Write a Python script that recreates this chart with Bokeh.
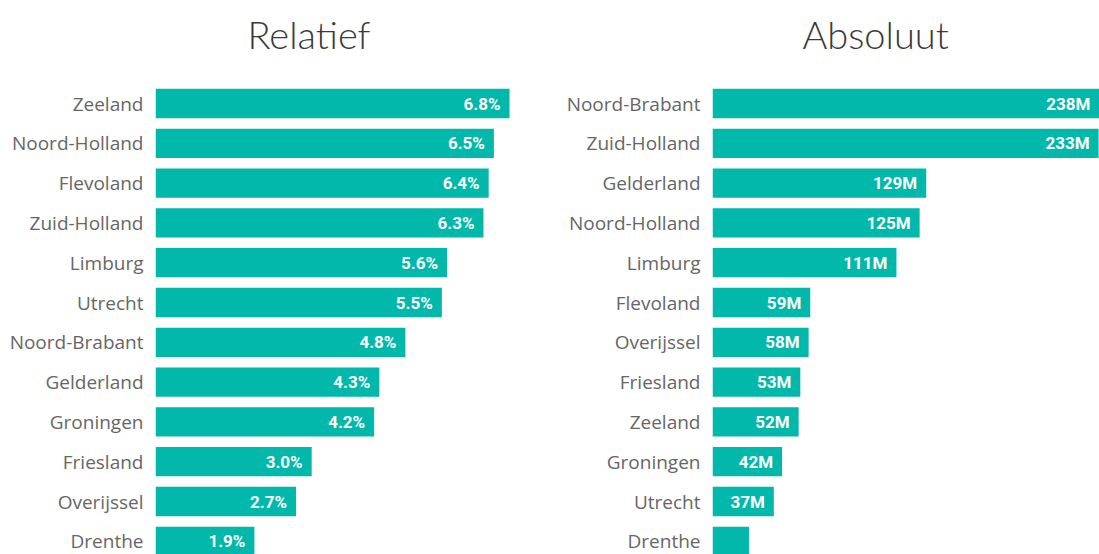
from bokeh.plotting import figure
from bokeh.models import Range1d, FixedTicker
from bokeh.layouts import row
from bokeh.embed import file_html
from bokeh.resources import INLINE
from bokeh.core.properties import value

# ---- data ----
rel_regions = ["Zeeland", "Noord-Holland", "Flevoland", "Zuid-Holland", "Limburg", "Utrecht",
               "Noord-Brabant", "Gelderland", "Groningen", "Friesland", "Overijssel", "Drenthe"]
rel_values = [6.8, 6.5, 6.4, 6.3, 5.6, 5.5, 4.8, 4.3, 4.2, 3.0, 2.7, 1.9]

abs_regions = ["Noord-Brabant", "Zuid-Holland", "Gelderland", "Noord-Holland", "Limburg", "Flevoland",
               "Overijssel", "Friesland", "Zeeland", "Groningen", "Utrecht", "Drenthe"]
abs_values = [238, 233, 129, 125, 111, 59, 58, 53, 52, 42, 37, 22]

rel_labels = [f"{v:.1f}%" for v in rel_values]
abs_labels = [f"{v}M" if v >= 30 else "" for v in abs_values]

# ---- layout constants ----
H = 554
FRAME_TOP = 66
ROW_PX = 39.8
Y_TOP = -(103 - FRAME_TOP) / ROW_PX
Y_BOTTOM = Y_TOP + (H - FRAME_TOP) / ROW_PX

BAR_COLOR = "#01B8AA"
TITLE_FONT = "'Lato Light', 'Open Sans Light', 'Open Sans', sans-serif"


def make(title, regions, values, labels, width, border_left, x_end, title_offset):
    p = figure(width=width, height=H, output_backend="svg", toolbar_location=None,
               x_range=Range1d(0, x_end), y_range=Range1d(Y_BOTTOM, Y_TOP),
               min_border_left=border_left, min_border_right=0,
               min_border_top=FRAME_TOP, min_border_bottom=0, title=title)
    p.title.text_font = TITLE_FONT
    p.title.text_font_size = "38px"
    p.title.text_font_style = "normal"
    p.title.text_color = "#3a3a3a"
    p.title.align = "left"
    p.title.vertical_align = "top"
    p.title.offset = title_offset
    p.title.standoff = 16
    p.outline_line_color = None
    p.xgrid.visible = False
    p.ygrid.visible = False
    p.xaxis.visible = False
    p.background_fill_color = "white"
    p.border_fill_color = "white"

    idx = list(range(len(regions)))
    p.hbar(y=idx, left=0, right=values, height=0.735, fill_color=BAR_COLOR, line_color=None)
    label_x = [min(v, x_end) for v in values]
    p.text(x=label_x, y=idx, text=labels, x_offset=-9, text_align="right",
           text_baseline="middle", text_color="white", text_font=value("Roboto"),
           text_font_style="bold", text_font_size="17px")

    ax = p.yaxis[0]
    ax.ticker = FixedTicker(ticks=idx)
    ax.major_label_overrides = {i: r for i, r in enumerate(regions)}
    ax.axis_line_color = None
    ax.major_tick_line_color = None
    ax.minor_tick_line_color = None
    ax.major_tick_out = 0
    ax.major_tick_in = 0
    ax.major_label_standoff = 12
    ax.major_label_text_font = "Open Sans"
    ax.major_label_text_font_size = "19px"
    ax.major_label_text_color = "#666666"
    return p


p1 = make("Relatief", rel_regions, rel_values, rel_labels, 550, 155, 395 / 52.06, 92)
p2 = make("Absoluut", abs_regions, abs_values, abs_labels, 549, 162, 387 / 1.657, 90)

layout = row(p1, p2, spacing=0)
open("out.html", "w").write(file_html(layout, INLINE))
